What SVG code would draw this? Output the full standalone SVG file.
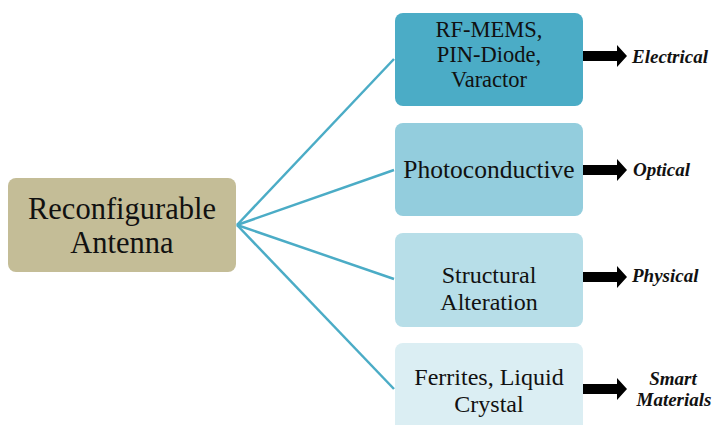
<svg xmlns="http://www.w3.org/2000/svg" width="712" height="425" viewBox="0 0 712 425">
<style>
text{font-family:'Liberation Serif','DejaVu Serif',serif}
.t{fill:#111;text-anchor:middle}
.main{font-size:30.5px}
.sub{font-size:24px}
.sub1{font-size:22.5px}
.lbl{font-weight:bold;font-style:italic;font-size:19px;fill:#111}
.conn{stroke:#4bacc6;stroke-width:2.5;fill:none}
</style>
<defs>
<path id="arr" d="M0,-5 H34 V-11 L44,0 L34,11 V5 H0 Z" fill="#000"/>
</defs>
<rect width="712" height="425" fill="#fff"/>
<g id="connectors">
<line class="conn" x1="237" y1="225" x2="394" y2="59"/>
<line class="conn" x1="237" y1="225" x2="394" y2="170"/>
<line class="conn" x1="237" y1="225" x2="394" y2="279"/>
<line class="conn" x1="237" y1="225" x2="394" y2="389"/>
</g>
<g id="root">
<rect x="8" y="178" width="228" height="94" rx="8" fill="#c4bd97"/>
<text class="t main" x="122" y="219" font-family="Liberation Serif, serif">Reconfigurable</text>
<text class="t main" x="122" y="253" font-family="Liberation Serif, serif">Antenna</text>
</g>
<g id="electrical">
<rect x="395" y="13" width="188" height="93" rx="8" fill="#4bacc6"/>
<text class="t sub1" x="489" y="37">RF-MEMS,</text>
<text class="t sub1" x="489" y="62">PIN-Diode,</text>
<text class="t sub1" x="489" y="87">Varactor</text>
<use href="#arr" x="583" y="56"/>
<text class="lbl" x="632" y="63">Electrical</text>
</g>
<g id="optical">
<rect x="395" y="123" width="188" height="93" rx="8" fill="#93cddd"/>
<text class="t" x="489" y="178" font-size="25.5">Photoconductive</text>
<use href="#arr" x="583" y="170"/>
<text class="lbl" x="633" y="176">Optical</text>
</g>
<g id="physical">
<rect x="395" y="233" width="188" height="94" rx="8" fill="#b7dee8"/>
<text class="t sub" x="489" y="283">Structural</text>
<text class="t sub" x="489" y="310">Alteration</text>
<use href="#arr" x="583" y="277"/>
<text class="lbl" x="632" y="282">Physical</text>
</g>
<g id="smart">
<rect x="395" y="343" width="188" height="94" rx="8" fill="#dbeef3"/>
<text class="t sub" x="489" y="385">Ferrites, Liquid</text>
<text class="t sub" x="489" y="412">Crystal</text>
<use href="#arr" x="583" y="389"/>
<text class="lbl" x="673" y="385" text-anchor="middle">Smart</text>
<text class="lbl" x="674" y="406" text-anchor="middle">Materials</text>
</g>
</svg>
